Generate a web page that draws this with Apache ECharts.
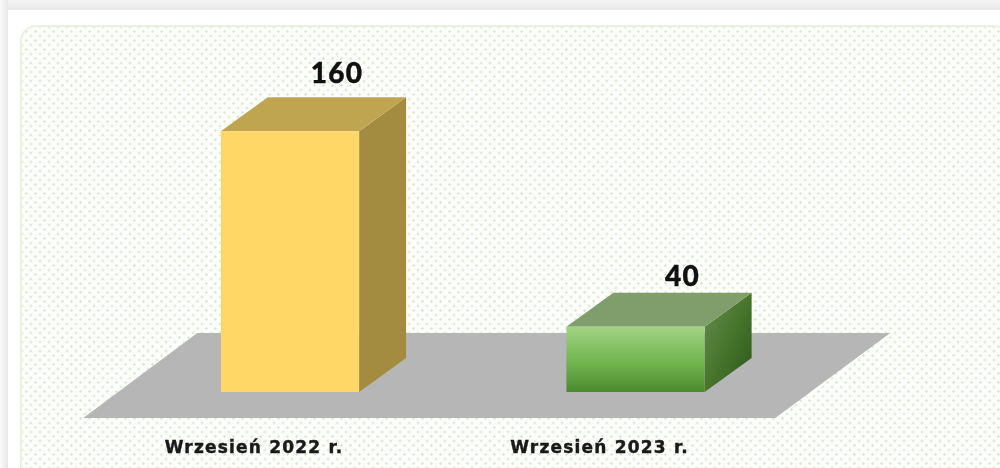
<!DOCTYPE html>
<html>
<head>
<meta charset="utf-8">
<style>
  html, body { margin: 0; width: 1000px; height: 468px; overflow: hidden; background: #fff; }
  /* grey frame of the page around the white panel */
  .frame { position: absolute; left: 0; top: 0; width: 1000px; height: 10px;
    background: linear-gradient(to bottom, #f4f4f4, #e9e9e9); }
  .frameLeft { position: absolute; left: 0; top: 0; width: 8px; height: 468px;
    background: linear-gradient(to right, #fbfbfb, #e6e6e6); }
  .panel { position: absolute; left: 8px; top: 10px; width: 992px; height: 458px; background: #fff; }
  .dots { position: absolute; left: 20px; top: 25px; width: 990px; height: 460px; box-sizing: border-box;
    border: 2px solid #e9f2e0; border-radius: 16px; background-color: #fdfefc;
    background-image: radial-gradient(circle, #d6e8c8 0.9px, transparent 1.5px),
                      radial-gradient(circle, #d6e8c8 0.9px, transparent 1.5px);
    background-size: 9px 9px; background-position: 0 0, 4.5px 4.5px; }
  #main { position: absolute; left: 0; top: 0; width: 1000px; height: 468px; filter: blur(0.5px); }
  #main text { letter-spacing: 1.2px; stroke: #111; stroke-width: 0.4px; }
</style>
</head>
<body>
<div class="frame"></div>
<div class="frameLeft"></div>
<div class="panel"></div>
<div class="dots"></div>
<div id="main"></div>
<script src="https://cdn.jsdelivr.net/npm/echarts@6/dist/echarts.min.js"></script>
<script>
var categories = ['Wrzesień 2022 r.', 'Wrzesień 2023 r.']
var values = [160, 40]

var depthX = 47
var depthY = 34
var labelLift = [25, 18]

var yellow = { front: '#fed766', top: '#bfa550', side: '#a38c40' }
var green = {
  front: new echarts.graphic.LinearGradient(0, 0, 0, 1, [
    { offset: 0, color: '#a2d385' },
    { offset: 0.55, color: '#71b44d' },
    { offset: 1, color: '#4c8a2e' }
  ]),
  top: '#7f9e6b',
  side: new echarts.graphic.LinearGradient(0, 0, 1, 1, [
    { offset: 0, color: '#6a8c58' },
    { offset: 0.5, color: '#47752b' },
    { offset: 1, color: '#2c541b' }
  ])
}
var palette = [yellow, green]

function poly (points, fill) {
  return { type: 'polygon', shape: { points: points }, style: { fill: fill } }
}

function renderFloor (params, api) {
  var sys = params.coordSys
  var base = api.coord([0, 0])[1]
  return poly([
    [sys.x - 34, base + 26],
    [sys.x + sys.width - 33, base + 26],
    [sys.x + sys.width + 82, base - 59],
    [sys.x + 80, base - 59]
  ], '#b6b6b6')
}

function renderBar (params, api) {
  var i = params.dataIndex
  var top = api.coord([i, api.value(1)])
  var base = api.coord([i, 0])
  var w = api.size([1, 0])[0] * 0.4
  var l = top[0] - w / 2
  var r = top[0] + w / 2
  var c = palette[i]
  return {
    type: 'group',
    children: [
      poly([[r, top[1]], [r + depthX, top[1] - depthY], [r + depthX, base[1] - depthY], [r, base[1]]], c.side),
      poly([[l, top[1]], [l + depthX, top[1] - depthY], [r + depthX, top[1] - depthY], [r, top[1]]], c.top),
      { type: 'rect', shape: { x: l, y: top[1], width: w, height: base[1] - top[1] }, style: { fill: c.front } },
      {
        type: 'text',
        style: {
          text: String(api.value(1)),
          x: top[0] + depthX,
          y: top[1] - depthY - labelLift[i],
          align: 'center',
          verticalAlign: 'middle',
          font: '900 28px Lato',
          fill: '#111'
        }
      }
    ]
  }
}

var myChart = echarts.init(document.getElementById('main'), null, { renderer: 'svg' })
var option = {
  animation: false,
  grid: { left: 117.25, top: 66, width: 691, height: 326 },
  xAxis: {
    type: 'category',
    data: categories,
    axisLine: { show: false },
    axisTick: { show: false },
    axisLabel: {
      margin: 46,
      padding: [0, 72, 0, 0],
      fontFamily: 'DejaVu Sans',
      fontWeight: 'bold',
      fontSize: 17,
      color: '#1a1a1a'
    }
  },
  yAxis: { type: 'value', min: 0, max: 200, show: false },
  series: [
    { type: 'custom', name: 'floor', z: 1, clip: false, silent: true, data: [[0, 0]], renderItem: renderFloor },
    {
      type: 'custom',
      name: 'bars',
      z: 2,
      clip: false,
      data: values.map(function (v, i) { return [i, v] }),
      renderItem: renderBar
    }
  ]
}
myChart.setOption(option)
</script>
</body>
</html>
